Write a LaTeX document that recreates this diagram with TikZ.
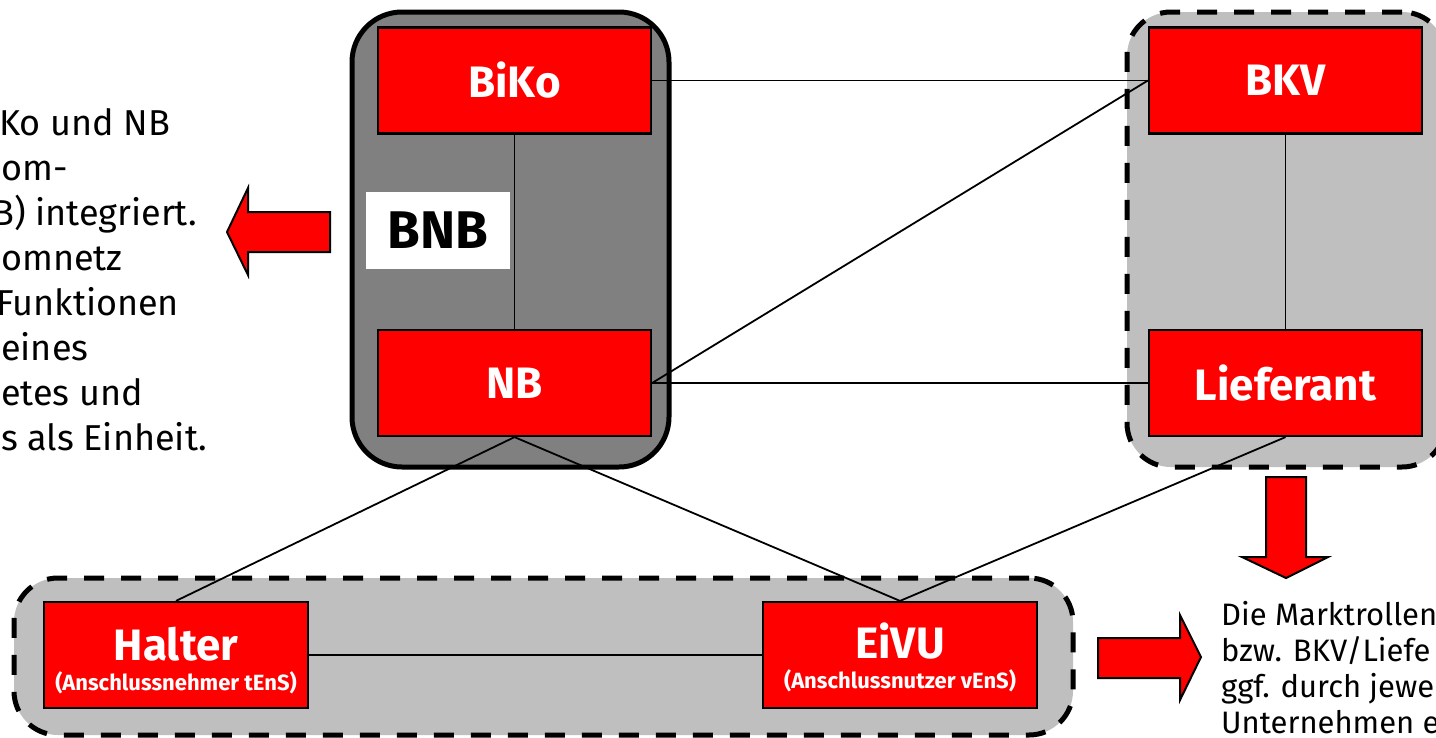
\documentclass[tikz,border=0pt]{standalone}
\usepackage{fontspec}
\setmainfont{Fira Sans}
\usetikzlibrary{positioning}

\definecolor{rolered}{RGB}{255,0,0}
\definecolor{grpdark}{RGB}{128,128,128}
\definecolor{grplight}{RGB}{191,191,191}

\tikzset{
  grpsolid/.style={draw=black, line width=5, fill=grpdark, rounded corners=50, inner sep=0},
  grpdash/.style={draw=black, line width=5, fill=grplight, rounded corners=44,
                  dash pattern=on 20 off 17, inner sep=0},
  rolebox/.style={draw=black, line width=2.2, fill=rolered, text=white, inner sep=0,
                  minimum width=273, minimum height=106,
                  font=\fontsize{44}{44}\selectfont\bfseries},
  roletitle/.style={anchor=base, text=white, inner sep=0,
                  font=\fontsize{44}{44}\selectfont\bfseries},
  rolesub/.style={anchor=base, text=white, inner sep=0,
                  font=\fontsize{22}{22}\selectfont\bfseries},
  link/.style={draw=black, line width=1.8},
  bigarrow/.style={draw=black, line width=2, fill=rolered, line join=miter},
  notetext/.style={anchor=base west, inner sep=0, text=black,
                  font=\fontsize{36}{36}\selectfont},
  notetextsm/.style={anchor=base west, inner sep=0, text=black,
                  font=\fontsize{31}{31}\selectfont},
}

\begin{document}
\begin{tikzpicture}[x=1pt, y=-1pt]
\useasboundingbox (0,0) rectangle (1436,737);
\clip (0,0) rectangle (1436,737);

% group frames
\node[grpsolid, minimum width=317, minimum height=455] (bnbgrp) at (510.5,239.5) {};
\node[grpdash, minimum width=319, minimum height=455] (lfgrp) at (1286.5,239.5) {};
\node[grpdash, minimum width=1059, minimum height=157] (kdgrp) at (543.5,656.5) {};

% market roles
\node[rolebox] (biko) at (514.5,80.5) {BiKo};
\node[rolebox] (nb) at (514.5,383) {NB};
\node[rolebox] (bkv) at (1285.5,80.5) {BKV};
\node[rolebox] (lief) at (1285.5,383) {Lieferant};
\node[rolebox, minimum width=264] (halter) at (176,655) {};
\node[rolebox, minimum width=274] (eivu) at (900,655) {};

\node[roletitle] (haltertitle) at (176,660) {Halter};
\node[rolesub] (haltersub) at (176,690) {(Anschlussnehmer tEnS)};
\node[roletitle] (eivutitle) at (900,658) {EiVU};
\node[rolesub] (eivusub) at (900,688) {(Anschlussnutzer vEnS)};

% BNB label
\node[fill=white, minimum width=144, minimum height=77, inner sep=0,
      font=\fontsize{53}{53}\selectfont\bfseries] (bnb) at (438,230.5) {BNB};

% relations
\draw[link] (biko) -- (nb);
\draw[link] (bkv) -- (lief);
\draw[link] (biko.east) -- (bkv.west);
\draw[link] (nb.east) -- (bkv.west);
\draw[link] (nb.east) -- (lief.west);
\draw[link] (nb.south) -- (halter.north);
\draw[link] (nb.south) -- (eivu.north);
\draw[link] (lief.south) -- (eivu.north);
\draw[link] (halter.east) -- (eivu.west);

% block arrows
\draw[bigarrow] (330,212) -- (248,212) -- (248,188) -- (227,232) -- (248,275)
  -- (248,252) -- (330,252) -- cycle;
\draw[bigarrow] (1266,477) -- (1306,477) -- (1306,557) -- (1328,557) -- (1286,578)
  -- (1242,557) -- (1266,557) -- cycle;
\draw[bigarrow] (1098,638) -- (1180,638) -- (1180,615) -- (1201,657) -- (1180,700)
  -- (1180,678) -- (1098,678) -- cycle;

% explanatory notes
\node[notetext] (nl1) at (-1,135) {Ko und NB};
\node[notetext] (nl2) at (1,180) {om-};
\node[notetext] (nl3) at (-8,225) {B) integriert.};
\node[notetext] (nl4) at (1,270) {omnetz};
\node[notetext] (nl5) at (-4,315) {Funktionen};
\node[notetext] (nl6) at (1,360) {eines};
\node[notetext] (nl7) at (1,405) {etes und};
\node[notetext] (nl8) at (1,450) {s als Einheit.};

\node[notetextsm] (nr1) at (1221,625) {Die Marktrollen};
\node[notetextsm] (nr2) at (1221,661) {bzw. BKV/Liefe};
\node[notetextsm] (nr3) at (1221,697) {ggf. durch jewe};
\node[notetextsm] (nr4) at (1221,733) {Unternehmen e};
\end{tikzpicture}
\end{document}
